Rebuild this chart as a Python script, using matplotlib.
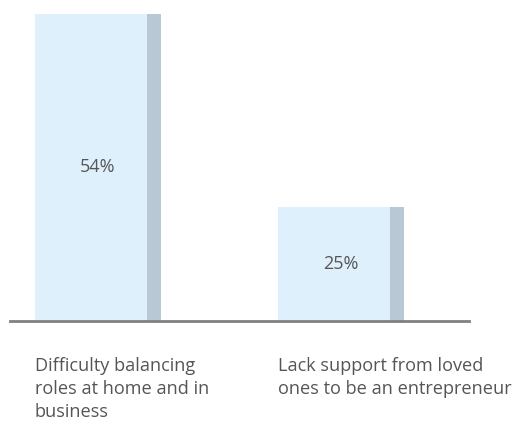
import matplotlib
matplotlib.use("Agg")
import matplotlib.pyplot as plt

# データ
categories = ["Difficulty balancing\nroles at home and in\nbusiness",
              "Lack support from loved\nones to be an entrepreneur"]
values = [54, 25]
value_labels = ["54%", "25%"]

light_color = "#dff0fd"
dark_color = "#b8c8d4"
text_color = "#555555"

plt.rcParams["font.family"] = ["Open Sans", "DejaVu Sans"]

fig = plt.figure(figsize=(5.18, 4.23), dpi=100)
ax = fig.add_axes([10 / 518, 102 / 423, 459 / 518, 307 / 423])

light_w = 112 / 243
dark_w = 14 / 243
xs = range(len(values))
y_bottom = 7.9

ax.bar(xs, values, width=light_w, align="edge", color=light_color, linewidth=0)
ax.bar([x + light_w for x in xs], values, width=dark_w, align="edge", color=dark_color, linewidth=0)

for x, v, lab in zip(xs, values, value_labels):
    ax.text(x + (light_w + dark_w) / 2, (v + y_bottom) / 2, lab, ha="center", va="center",
            fontsize=13, color=text_color)

for x, cat in zip(xs, categories):
    ax.annotate(cat, xy=(x, 0), xycoords=("data", "axes fraction"),
                xytext=(0, -26), textcoords="offset points",
                ha="left", va="top", fontsize=13.1, color=text_color,
                linespacing=1.37, annotation_clip=False)

# 軸の装飾
ax.set_xlim(-25 / 243, 434 / 243)
ax.set_ylim(y_bottom, 54)
for s in ["top", "right", "left"]:
    ax.spines[s].set_visible(False)
ax.spines["bottom"].set_color("#808080")
ax.spines["bottom"].set_linewidth(2)
ax.set_xticks([])
ax.set_yticks([])

fig.savefig("out.png", dpi=100)
